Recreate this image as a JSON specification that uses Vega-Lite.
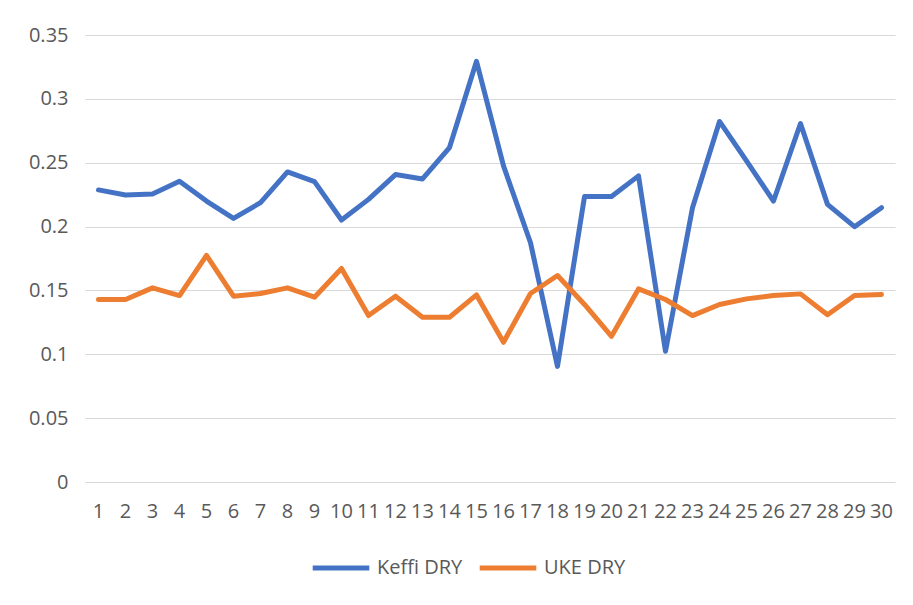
{
  "$schema": "https://vega.github.io/schema/vega-lite/v6.json",
  "autosize": "none",
  "width": 810,
  "height": 447,
  "padding": {"left": 85, "top": 35, "right": 18, "bottom": 123},
  "background": "white",
  "config": {
    "view": {"stroke": null},
    "font": "Open Sans"
  },
  "data": {
    "values": [
      {"day": 1, "series": "Keffi DRY", "value": 0.2287},
      {"day": 2, "series": "Keffi DRY", "value": 0.2247},
      {"day": 3, "series": "Keffi DRY", "value": 0.2255},
      {"day": 4, "series": "Keffi DRY", "value": 0.2355},
      {"day": 5, "series": "Keffi DRY", "value": 0.2200},
      {"day": 6, "series": "Keffi DRY", "value": 0.2064},
      {"day": 7, "series": "Keffi DRY", "value": 0.2187},
      {"day": 8, "series": "Keffi DRY", "value": 0.2428},
      {"day": 9, "series": "Keffi DRY", "value": 0.2352},
      {"day": 10, "series": "Keffi DRY", "value": 0.2051},
      {"day": 11, "series": "Keffi DRY", "value": 0.2213},
      {"day": 12, "series": "Keffi DRY", "value": 0.2407},
      {"day": 13, "series": "Keffi DRY", "value": 0.2373},
      {"day": 14, "series": "Keffi DRY", "value": 0.2619},
      {"day": 15, "series": "Keffi DRY", "value": 0.3294},
      {"day": 16, "series": "Keffi DRY", "value": 0.2475},
      {"day": 17, "series": "Keffi DRY", "value": 0.1873},
      {"day": 18, "series": "Keffi DRY", "value": 0.0905},
      {"day": 19, "series": "Keffi DRY", "value": 0.2235},
      {"day": 20, "series": "Keffi DRY", "value": 0.2235},
      {"day": 21, "series": "Keffi DRY", "value": 0.2397},
      {"day": 22, "series": "Keffi DRY", "value": 0.1023},
      {"day": 23, "series": "Keffi DRY", "value": 0.2148},
      {"day": 24, "series": "Keffi DRY", "value": 0.2823},
      {"day": 25, "series": "Keffi DRY", "value": 0.2514},
      {"day": 26, "series": "Keffi DRY", "value": 0.2200},
      {"day": 27, "series": "Keffi DRY", "value": 0.2807},
      {"day": 28, "series": "Keffi DRY", "value": 0.2174},
      {"day": 29, "series": "Keffi DRY", "value": 0.1999},
      {"day": 30, "series": "Keffi DRY", "value": 0.2148},
      {"day": 1, "series": "UKE DRY", "value": 0.1429},
      {"day": 2, "series": "UKE DRY", "value": 0.1429},
      {"day": 3, "series": "UKE DRY", "value": 0.1520},
      {"day": 4, "series": "UKE DRY", "value": 0.1460},
      {"day": 5, "series": "UKE DRY", "value": 0.1774},
      {"day": 6, "series": "UKE DRY", "value": 0.1455},
      {"day": 7, "series": "UKE DRY", "value": 0.1476},
      {"day": 8, "series": "UKE DRY", "value": 0.1520},
      {"day": 9, "series": "UKE DRY", "value": 0.1447},
      {"day": 10, "series": "UKE DRY", "value": 0.1672},
      {"day": 11, "series": "UKE DRY", "value": 0.1303},
      {"day": 12, "series": "UKE DRY", "value": 0.1455},
      {"day": 13, "series": "UKE DRY", "value": 0.1290},
      {"day": 14, "series": "UKE DRY", "value": 0.1290},
      {"day": 15, "series": "UKE DRY", "value": 0.1465},
      {"day": 16, "series": "UKE DRY", "value": 0.1094},
      {"day": 17, "series": "UKE DRY", "value": 0.1476},
      {"day": 18, "series": "UKE DRY", "value": 0.1617},
      {"day": 19, "series": "UKE DRY", "value": 0.1390},
      {"day": 20, "series": "UKE DRY", "value": 0.1141},
      {"day": 21, "series": "UKE DRY", "value": 0.1512},
      {"day": 22, "series": "UKE DRY", "value": 0.1429},
      {"day": 23, "series": "UKE DRY", "value": 0.1303},
      {"day": 24, "series": "UKE DRY", "value": 0.1390},
      {"day": 25, "series": "UKE DRY", "value": 0.1434},
      {"day": 26, "series": "UKE DRY", "value": 0.1460},
      {"day": 27, "series": "UKE DRY", "value": 0.1473},
      {"day": 28, "series": "UKE DRY", "value": 0.1310},
      {"day": 29, "series": "UKE DRY", "value": 0.1460},
      {"day": 30, "series": "UKE DRY", "value": 0.1468}
    ]
  },
  "mark": {"type": "line", "strokeWidth": 5, "strokeJoin": "round", "strokeCap": "round"},
  "encoding": {
    "x": {
      "field": "day",
      "type": "ordinal",
      "scale": {"type": "band", "paddingInner": 0, "paddingOuter": 0},
      "axis": {
        "title": null,
        "labelAngle": 0,
        "labelFont": "Open Sans",
        "labelFontSize": 20,
        "labelColor": "#595959",
        "labelPadding": 19,
        "labelOverlap": false,
        "ticks": false,
        "domain": false,
        "grid": false
      }
    },
    "y": {
      "field": "value",
      "type": "quantitative",
      "scale": {"domain": [0, 0.35], "nice": false},
      "axis": {
        "title": null,
        "values": [0, 0.05, 0.1, 0.15, 0.2, 0.25, 0.3, 0.35],
        "format": "~g",
        "labelFont": "Open Sans",
        "labelFontSize": 20,
        "labelColor": "#595959",
        "labelPadding": 17,
        "ticks": false,
        "domain": false,
        "grid": true,
        "gridColor": "#d9d9d9",
        "gridWidth": 1
      }
    },
    "color": {
      "field": "series",
      "type": "nominal",
      "scale": {"domain": ["Keffi DRY", "UKE DRY"], "range": ["#4472C4", "#ED7D31"]},
      "legend": {
        "title": null,
        "orient": "none",
        "legendX": 225,
        "legendY": 502,
        "direction": "horizontal",
        "symbolType": "stroke",
        "symbolStrokeWidth": 5,
        "symbolSize": 3200,
        "labelFont": "Open Sans",
        "labelFontSize": 20,
        "labelColor": "#595959",
        "labelOffset": 5,
        "columnPadding": 6
      }
    }
  }
}
